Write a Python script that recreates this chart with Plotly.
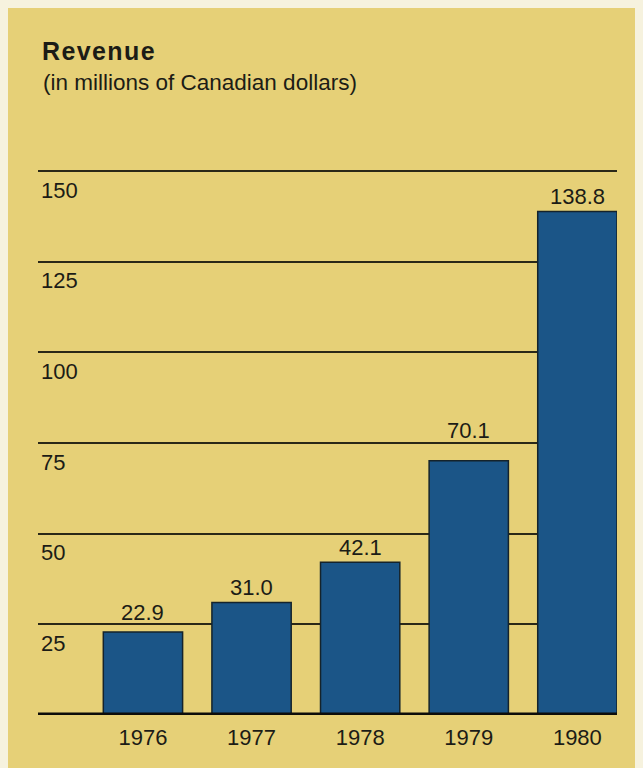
import plotly.graph_objects as go

years = ["1976", "1977", "1978", "1979", "1980"]
revenue = [22.9, 31.0, 42.1, 70.1, 138.8]
value_labels = ["22.9", "31.0", "42.1", "70.1", "138.8"]
grid_values = [25, 50, 75, 100, 125, 150]
grid_labels = ["25", "50", "75", "100", "125", "150"]

title = "Revenue"
subtitle = "(in millions of Canadian dollars)"

# page body adds an 8px margin at top/left (matches the pale scan edge)
OFF = 8
W, H = 643 - OFF, 768 - OFF
ML = 38 - OFF
PLOT_RIGHT = 617 - OFF
PLOT_TOP = 140 - OFF
PLOT_BOTTOM = 715 - OFF
MR = W - PLOT_RIGHT
MT = PLOT_TOP
MB = H - PLOT_BOTTOM
PW, PH = W - ML - MR, H - MT - MB

YELLOW = "#e6d077"
BLUE = "#1b5587"
INK = "#1c1c16"
FONT = "Liberation Sans, Arial, Helvetica, sans-serif"
BAR_W = 0.73
SLOT = 108.6          # px between bar centres
PX_PER_UNIT = 3.627
LABEL_SIZE = 22

x_right = (len(years) - 1) + BAR_W / 2
x_left = x_right - PW / SLOT

fig = go.Figure()
fig.add_trace(go.Bar(
    x=list(range(len(years))), y=revenue,
    width=BAR_W,
    marker=dict(color=BLUE, line=dict(color="#15232b", width=1.5)),
    hoverinfo="x+y",
))

def px_x(p):
    return (p - ML) / PW

def px_y(p):
    return (H - MB - p) / PH

shapes = [
    dict(type="line", xref="paper", yref="y", x0=0, x1=1, y0=0, y1=0,
         line=dict(color="#0d0d0a", width=5), layer="above"),
]

annotations = [
    dict(text="<b><span style='letter-spacing:1.4px'>" + title + "</span></b>",
         xref="paper", yref="paper", x=px_x(40 - OFF), y=px_y(51 - OFF),
         xanchor="left", yanchor="middle", showarrow=False,
         font=dict(size=25, color=INK, family=FONT)),
    dict(text=subtitle, xref="paper", yref="paper", x=px_x(41 - OFF), y=px_y(82 - OFF),
         xanchor="left", yanchor="middle", showarrow=False,
         font=dict(size=22.5, color=INK, family=FONT)),
]

# value labels sit just above each bar, lifted over a gridline if they would touch it
HALF_TEXT = 8
for i, (v, lab) in enumerate(zip(revenue, value_labels)):
    shift = 15
    for g in grid_values:
        gpx = (g - v) * PX_PER_UNIT
        if shift - HALF_TEXT - 2 < gpx < shift + HALF_TEXT + 2:
            shift = gpx + 4 + HALF_TEXT
    annotations.append(dict(text=lab, xref="x", yref="y", x=i, y=v, yshift=shift,
                            xanchor="center", yanchor="middle", showarrow=False,
                            font=dict(size=LABEL_SIZE, color=INK, family=FONT)))

fig.update_layout(
    width=W, height=H,
    margin=dict(l=ML, r=MR, t=MT, b=MB, pad=0),
    paper_bgcolor=YELLOW, plot_bgcolor="rgba(0,0,0,0)",
    showlegend=False,
    shapes=shapes, annotations=annotations,
    font=dict(family=FONT, color=INK),
    xaxis=dict(range=[x_left, x_right], tickmode="array",
               tickvals=list(range(len(years))), ticktext=years,
               showgrid=False, zeroline=False, showline=False, ticks="",
               tickfont=dict(size=22, color=INK, family=FONT), ticklabelstandoff=7),
    yaxis=dict(range=[0, PH / PX_PER_UNIT], tickmode="array",
               tickvals=grid_values, ticktext=grid_labels,
               showgrid=True, gridcolor="#2a2818", gridwidth=1.8,
               zeroline=False, showline=False, ticks="",
               ticklabelposition="inside", ticklabelstandoff=0, ticklabelshift=19,
               tickfont=dict(size=22, color=INK, family=FONT)),
)

fig.write_html("out.html",
               post_script="document.body.style.overflow='hidden';"
                           "document.body.style.background='#f6f2de';")
